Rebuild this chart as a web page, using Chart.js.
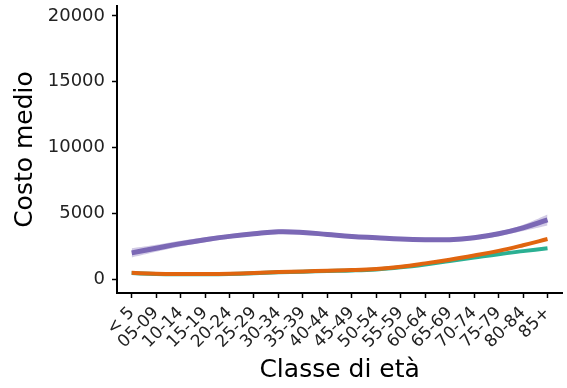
<!DOCTYPE html>
<html>
<head>
<meta charset="utf-8">
<script src="https://cdn.jsdelivr.net/npm/chart.js@4"></script>
<style>
  html, body { margin: 0; padding: 0; background: #fff; }
</style>
</head>
<body>
<canvas id="costChart" width="567" height="388"></canvas>
<script>
const classi = ['< 5', '05-09', '10-14', '15-19', '20-24', '25-29', '30-34', '35-39', '40-44',
  '45-49', '50-54', '55-59', '60-64', '65-69', '70-74', '75-79', '80-84', '85+'];
const yTicks = [0, 5000, 10000, 15000, 20000];

// smoothed mean cost per age class
const viola = [2000, 2350, 2700, 3000, 3250, 3450, 3600, 3550, 3400, 3250, 3150, 3050, 3000, 3000, 3150, 3450, 3900, 4500];
const violaLow = [1650, 2080, 2480, 2810, 3080, 3290, 3440, 3400, 3260, 3110, 3010, 2910, 2860, 2850, 2990, 3270, 3660, 4080];
const violaHigh = [2350, 2620, 2920, 3190, 3420, 3610, 3760, 3700, 3540, 3390, 3290, 3190, 3140, 3150, 3310, 3630, 4140, 4920];
const arancio = [480, 420, 400, 400, 420, 470, 540, 590, 640, 690, 780, 950, 1200, 1480, 1800, 2150, 2580, 3050];
const verde = [460, 400, 380, 380, 400, 450, 520, 570, 620, 660, 740, 900, 1120, 1380, 1640, 1900, 2130, 2350];

const FONT = '"DejaVu Sans", sans-serif';
const pts = arr => arr.map((v, i) => ({ x: i, y: v }));

const lineDs = (data, color, width) => ({
  data: pts(data),
  borderColor: color,
  borderWidth: width,
  pointRadius: 0,
  tension: 0.4,
  fill: false
});

// Chart.js paints the first dataset last, so the purple line sits on top
new Chart(document.getElementById('costChart'), {
  type: 'line',
  data: {
    datasets: [
      lineDs(viola, '#7b68b5', 5),
      lineDs(arancio, '#e0650f', 4),
      lineDs(verde, '#2bb093', 4),
      { data: pts(violaLow), borderWidth: 0, pointRadius: 0, tension: 0.4, fill: false },
      { data: pts(violaHigh), borderWidth: 0, pointRadius: 0, tension: 0.4,
        fill: '-1', backgroundColor: 'rgba(123, 104, 181, 0.35)' }
    ]
  },
  options: {
    responsive: false,
    animation: false,
    layout: { padding: { top: 6, right: 2, left: 0, bottom: 0 } },
    plugins: { legend: { display: false }, tooltip: { enabled: false } },
    scales: {
      x: {
        type: 'linear',
        min: -0.6,
        max: 17.6,
        afterBuildTicks: s => { s.ticks = classi.map((_, i) => ({ value: i })); },
        afterFit: s => { s.height = 95; },
        ticks: {
          autoSkip: false,
          minRotation: 45,
          maxRotation: 45,
          padding: 5,
          color: '#222',
          font: { family: FONT, size: 17 },
          callback: v => classi[v]
        },
        grid: { drawOnChartArea: false, color: '#000', tickLength: 5, tickWidth: 1.5 },
        border: { color: '#000', width: 2 },
        title: {
          display: true, text: 'Classe di età', color: '#000',
          font: { family: FONT, size: 25 }, padding: { top: 0, bottom: 3 }
        }
      },
      y: {
        min: -1050,
        max: 20750,
        afterBuildTicks: s => { s.ticks = yTicks.map(v => ({ value: v })); },
        afterFit: s => { s.width = 117; s.paddingTop = 0; s.paddingBottom = 0; },
        ticks: {
          padding: 7,
          color: '#222',
          font: { family: FONT, size: 18 },
          callback: v => String(v)
        },
        grid: { drawOnChartArea: false, color: '#000', tickLength: 5, tickWidth: 1.5 },
        border: { color: '#000', width: 2 },
        title: {
          display: true, text: 'Costo medio', color: '#000',
          font: { family: FONT, size: 25 }, padding: { top: 10, bottom: 0 }
        }
      }
    }
  }
});
</script>
</body>
</html>
